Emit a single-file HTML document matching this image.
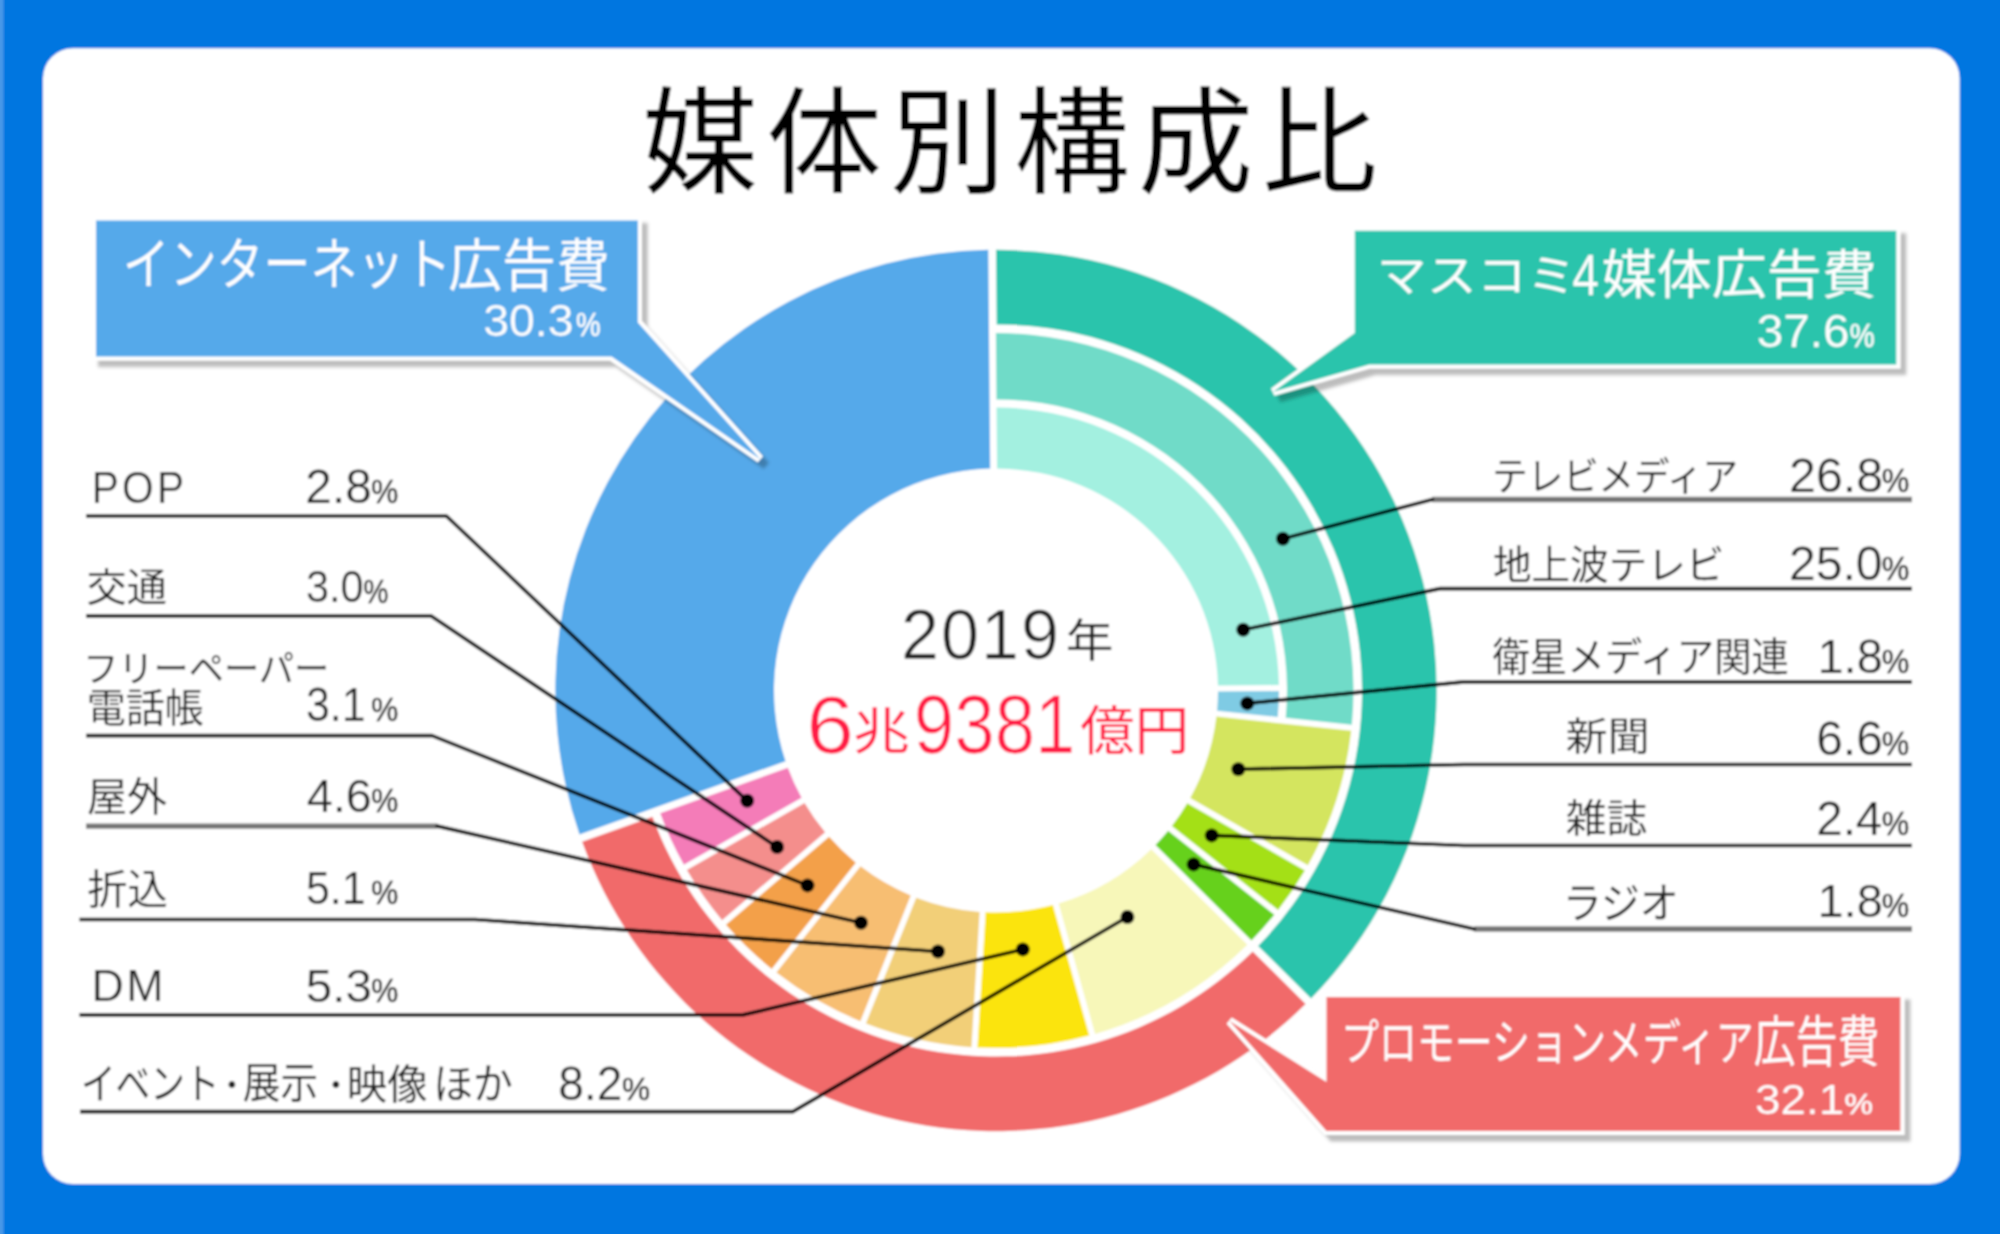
<!DOCTYPE html>
<html lang="ja"><head><meta charset="utf-8"><title>媒体別構成比</title>
<style>
html,body{margin:0;padding:0;background:#0676e0;}
body{width:2000px;height:1234px;overflow:hidden;}
svg{display:block;}
text{font-family:"Liberation Sans","Noto Sans CJK JP",sans-serif;}
</style></head><body>
<svg width="2000" height="1234" viewBox="0 0 2000 1234">
<defs><filter id="bl" filterUnits="userSpaceOnUse" x="-40" y="-40" width="2080" height="1314"><feGaussianBlur stdDeviation="0.8"/></filter><filter id="sh" x="-10%" y="-10%" width="125%" height="130%"><feDropShadow dx="6" dy="6.5" stdDeviation="1.6" flood-color="#000" flood-opacity="0.26"/></filter></defs>
<g filter="url(#bl)">
<rect x="-40" y="-40" width="2080" height="1314" fill="#0676e0"/>
<rect x="-40" y="-40" width="43.5" height="1314" fill="#4698e8"/>
<rect x="43" y="48.3" width="1916.6" height="1135.7" rx="30" ry="30" fill="#fff"/>
<g id="chart">
<path d="M996.00,249.80A440.7,440.7 0 0 1 1311.09,998.62L1258.13,945.92A366,366 0 0 0 996.66,324.50Z" fill="#29c4ac"/>
<path d="M1305.65,1004.08A440.7,440.7 0 0 1 582.09,841.81L652.47,816.78A366,366 0 0 0 1252.70,951.38Z" fill="#f16b6a"/>
<path d="M579.51,834.56A440.7,440.7 0 0 1 988.30,249.87L990.21,468.58A222,222 0 0 0 785.58,761.26Z" fill="#55a9ea"/>
<path d="M995.88,333.00A357.5,357.5 0 0 1 1351.85,724.76L1285.71,717.83A291,291 0 0 0 996.46,399.50Z" fill="#70dbc8"/>
<path d="M996.53,407.50A283,283 0 0 1 1278.95,685.03L1217.95,685.56A222,222 0 0 0 997.06,468.50Z" fill="#a3f0e0"/>
<path d="M1279.00,691.03A283,283 0 0 1 1277.76,717.00L1217.08,710.64A222,222 0 0 0 1218.00,691.56Z" fill="#7fcbe4"/>
<path d="M1351.23,730.73A357.5,357.5 0 0 1 1307.89,865.23L1190.23,798.01A222,222 0 0 0 1216.46,716.61Z" fill="#d4e55e"/>
<path d="M1304.91,870.44A357.5,357.5 0 0 1 1278.10,910.10L1171.87,825.97A222,222 0 0 0 1187.25,803.22Z" fill="#a4e015"/>
<path d="M1274.38,914.81A357.5,357.5 0 0 1 1251.51,940.54L1155.46,844.95A222,222 0 0 0 1168.15,830.67Z" fill="#66d11a"/>
<path d="M1247.28,944.79A357.5,357.5 0 0 1 1095.14,1033.98L1058.66,903.47A222,222 0 0 0 1151.23,849.21Z" fill="#f7f7b9"/>
<path d="M1089.37,1035.59A357.5,357.5 0 0 1 977.42,1047.52L985.60,912.26A222,222 0 0 0 1052.88,905.09Z" fill="#fbe40f"/>
<path d="M971.43,1047.15A357.5,357.5 0 0 1 865.91,1023.49L916.28,897.69A222,222 0 0 0 979.61,911.89Z" fill="#f2cf78"/>
<path d="M860.34,1021.26A357.5,357.5 0 0 1 776.40,972.60L860.53,866.37A222,222 0 0 0 910.71,895.46Z" fill="#f7be72"/>
<path d="M771.69,968.88A357.5,357.5 0 0 1 725.95,924.76L829.05,836.83A222,222 0 0 0 855.83,862.65Z" fill="#f3a049"/>
<path d="M722.06,920.20A357.5,357.5 0 0 1 686.84,870.01L804.59,802.95A222,222 0 0 0 825.16,832.26Z" fill="#f48e8c"/>
<path d="M683.87,864.80A357.5,357.5 0 0 1 660.19,813.13L787.86,767.72A222,222 0 0 0 801.62,797.74Z" fill="#f47cb8"/>
</g>
<g id="leaders"><polyline points="86,516 446.4,516 747.2,800.8" fill="none" stroke="#000000" stroke-width="3.7" stroke-linejoin="round"/><circle cx="747.2" cy="800.8" r="7" fill="#000"/><polyline points="86,615.8 430.8,615.8 777.1,847" fill="none" stroke="#000000" stroke-width="3.7" stroke-linejoin="round"/><circle cx="777.1" cy="847" r="7" fill="#000"/><polyline points="86,735.6 432,735.6 807.5,885.4" fill="none" stroke="#000000" stroke-width="3.7" stroke-linejoin="round"/><circle cx="807.5" cy="885.4" r="7" fill="#000"/><polyline points="86,826.1 437.3,826.1" fill="none" stroke="#747474" stroke-width="5.4"/><polyline points="437.3,826.1 861,922.7" fill="none" stroke="#000000" stroke-width="3.7" stroke-linecap="round"/><circle cx="861" cy="922.7" r="7" fill="#000"/><polyline points="79.5,919.5 475,919.5 938,951.5" fill="none" stroke="#000000" stroke-width="3.7" stroke-linejoin="round"/><circle cx="938" cy="951.5" r="7" fill="#000"/><polyline points="79.5,1014.9 743,1014.9 1022.8,949.4" fill="none" stroke="#000000" stroke-width="3.7" stroke-linejoin="round"/><circle cx="1022.8" cy="949.4" r="7" fill="#000"/><polyline points="80,1111.6 792.8,1111.6 1127.4,917" fill="none" stroke="#000000" stroke-width="3.7" stroke-linejoin="round"/><circle cx="1127.4" cy="917" r="7" fill="#000"/><polyline points="1912,499.5 1432.3,499.5" fill="none" stroke="#747474" stroke-width="5.4"/><polyline points="1432.3,499.5 1282.9,538.8" fill="none" stroke="#000000" stroke-width="3.7" stroke-linecap="round"/><circle cx="1282.9" cy="538.8" r="7" fill="#000"/><polyline points="1912,588.6 1440,588.6 1243.2,629.8" fill="none" stroke="#000000" stroke-width="3.7" stroke-linejoin="round"/><circle cx="1243.2" cy="629.8" r="7" fill="#000"/><polyline points="1912,681.8 1464,681.8 1247.3,703.4" fill="none" stroke="#000000" stroke-width="3.7" stroke-linejoin="round"/><circle cx="1247.3" cy="703.4" r="7" fill="#000"/><polyline points="1912,764.5 1464,764.5 1238.3,769.2" fill="none" stroke="#000000" stroke-width="3.7" stroke-linejoin="round"/><circle cx="1238.3" cy="769.2" r="7" fill="#000"/><polyline points="1912,845.5 1464,845.5 1211.7,835.4" fill="none" stroke="#000000" stroke-width="3.7" stroke-linejoin="round"/><circle cx="1211.7" cy="835.4" r="7" fill="#000"/><polyline points="1912,929 1474.2,929" fill="none" stroke="#747474" stroke-width="5.4"/><polyline points="1474.2,929 1193.6,864.4" fill="none" stroke="#000000" stroke-width="3.7" stroke-linecap="round"/><circle cx="1193.6" cy="864.4" r="7" fill="#000"/></g>
<g id="callouts"><path d="M96,220.4H637.8V322.5L760,459L611.6,356.6H96Z" fill="#55a9ea" stroke="#fff" stroke-width="8" stroke-linejoin="miter" stroke-miterlimit="3" paint-order="stroke" filter="url(#sh)"/><path d="M1354.8,230.8H1896.3V364.5H1369.5L1273.3,391.8L1354.8,333Z" fill="#29c4ac" stroke="#fff" stroke-width="8" stroke-linejoin="miter" stroke-miterlimit="3" paint-order="stroke" filter="url(#sh)"/><path d="M1326.5,997H1900.4V1131H1326.5L1229.6,1021L1326.5,1082Z" fill="#f16b6a" stroke="#fff" stroke-width="8" stroke-linejoin="miter" stroke-miterlimit="3" paint-order="stroke" filter="url(#sh)"/></g>
<g id="labels">
<text transform="matrix(1.1576 0 0 1.1613 642.37 183.55)" font-size="100" font-weight="400" fill="#000000" letter-spacing="0.07em">媒体別構成比</text>
<text transform="matrix(0.4693 0 0 0.5618 122.78 284.01)" font-size="100" font-weight="400" fill="#ffffff">インターネット</text>
<text transform="matrix(0.5392 0 0 0.5634 448.18 285.93)" font-size="100" font-weight="400" fill="#ffffff">広告費</text>
<text transform="matrix(0.4645 0 0 0.4465 483.14 335.55)" font-size="100" font-weight="400" fill="#ffffff" stroke="#55a9ea" stroke-width="0.20">30.3</text>
<text transform="matrix(0.2765 0 0 0.3286 575.89 335.67)" font-size="100" font-weight="400" fill="#ffffff" stroke="#ffffff" stroke-width="1.66">%</text>
<text transform="matrix(0.5000 0 0 0.4531 1376.80 292.23)" font-size="100" font-weight="400" fill="#ffffff">マスコミ</text>
<text transform="matrix(0.4804 0 0 0.5662 1572.24 295.07)" font-size="100" font-weight="400" fill="#ffffff" stroke="#29c4ac" stroke-width="0.21">4</text>
<text transform="matrix(0.5500 0 0 0.5344 1601.80 293.89)" font-size="100" font-weight="400" fill="#ffffff">媒体広告費</text>
<text transform="matrix(0.4763 0 0 0.4676 1756.79 346.53)" font-size="100" font-weight="400" fill="#ffffff" stroke="#29c4ac" stroke-width="0.20">37.6</text>
<text transform="matrix(0.2802 0 0 0.3243 1849.68 346.68)" font-size="100" font-weight="400" fill="#ffffff" stroke="#ffffff" stroke-width="1.66">%</text>
<text transform="matrix(0.3795 0 0 0.4915 1341.07 1059.67)" font-size="100" font-weight="400" fill="#ffffff">プロモーションメディア</text>
<text transform="matrix(0.4192 0 0 0.5452 1753.74 1061.29)" font-size="100" font-weight="400" fill="#ffffff">広告費</text>
<text transform="matrix(0.4575 0 0 0.4324 1755.07 1114.27)" font-size="100" font-weight="400" fill="#ffffff" stroke="#f16b6a" stroke-width="0.19">32.1</text>
<text transform="matrix(0.3198 0 0 0.2957 1844.42 1114.40)" font-size="100" font-weight="400" fill="#ffffff" stroke="#ffffff" stroke-width="1.63">%</text>
<text transform="matrix(0.6838 0 0 0.6972 900.88 658.50)" font-size="100" font-weight="400" fill="#222222" letter-spacing="0.03em" stroke="#ffffff" stroke-width="0.81">2019</text>
<text transform="matrix(0.4767 0 0 0.4495 1065.82 656.70)" font-size="100" font-weight="400" fill="#222222">年</text>
<text transform="matrix(0.8522 0 0 0.8211 806.54 752.98)" font-size="100" font-weight="400" fill="#ff1c47" stroke="#ffffff" stroke-width="0.79">6</text>
<text transform="matrix(0.5681 0 0 0.5022 853.06 749.28)" font-size="100" font-weight="400" fill="#ff1c47">兆</text>
<text transform="matrix(0.7264 0 0 0.8366 913.87 752.96)" font-size="100" font-weight="400" fill="#ff1c47" stroke="#ffffff" stroke-width="0.86">9381</text>
<text transform="matrix(0.5442 0 0 0.5380 1080.31 749.50)" font-size="100" font-weight="400" fill="#ff1c47">億円</text>
<text transform="matrix(0.4061 0 0 0.4380 91.75 503.06)" font-size="100" font-weight="400" fill="#222222" letter-spacing="0.08em" stroke="#ffffff" stroke-width="0.21">POP</text>
<text transform="matrix(0.4785 0 0 0.4746 305.31 503.03)" font-size="100" font-weight="400" fill="#222222" stroke="#ffffff" stroke-width="0.20">2.8</text>
<text transform="matrix(0.3037 0 0 0.3286 371.29 503.17)" font-size="100" font-weight="400" fill="#222222" stroke="#222222" stroke-width="1.58">%</text>
<text transform="matrix(0.4026 0 0 0.3903 86.49 601.19)" font-size="100" font-weight="400" fill="#222222">交通</text>
<text transform="matrix(0.4145 0 0 0.4493 306.04 602.45)" font-size="100" font-weight="400" fill="#222222" stroke="#ffffff" stroke-width="0.21">3.0</text>
<text transform="matrix(0.2790 0 0 0.3271 363.58 602.57)" font-size="100" font-weight="400" fill="#222222" stroke="#222222" stroke-width="1.65">%</text>
<text transform="matrix(0.3521 0 0 0.3659 83.22 682.34)" font-size="100" font-weight="400" fill="#222222">フリーペーパー</text>
<text transform="matrix(0.3903 0 0 0.3946 86.68 722.14)" font-size="100" font-weight="400" fill="#222222">電話帳</text>
<text transform="matrix(0.4285 0 0 0.4746 305.99 720.93)" font-size="100" font-weight="400" fill="#222222" stroke="#ffffff" stroke-width="0.21">3.1</text>
<text transform="matrix(0.3037 0 0 0.3343 371.29 721.07)" font-size="100" font-weight="400" fill="#222222" stroke="#222222" stroke-width="1.57">%</text>
<text transform="matrix(0.4010 0 0 0.3946 86.90 810.74)" font-size="100" font-weight="400" fill="#222222">屋外</text>
<text transform="matrix(0.4677 0 0 0.4563 306.76 812.14)" font-size="100" font-weight="400" fill="#222222" stroke="#ffffff" stroke-width="0.20">4.6</text>
<text transform="matrix(0.3037 0 0 0.3229 371.29 812.28)" font-size="100" font-weight="400" fill="#222222" stroke="#222222" stroke-width="1.60">%</text>
<text transform="matrix(0.4031 0 0 0.4087 87.29 904.03)" font-size="100" font-weight="400" fill="#222222">折込</text>
<text transform="matrix(0.4285 0 0 0.4629 305.99 904.24)" font-size="100" font-weight="400" fill="#222222" stroke="#ffffff" stroke-width="0.20">5.1</text>
<text transform="matrix(0.3037 0 0 0.3243 371.29 904.38)" font-size="100" font-weight="400" fill="#222222" stroke="#222222" stroke-width="1.59">%</text>
<text transform="matrix(0.4469 0 0 0.4507 91.42 1000.60)" font-size="100" font-weight="400" fill="#222222" letter-spacing="0.06em" stroke="#ffffff" stroke-width="0.20">DM</text>
<text transform="matrix(0.4748 0 0 0.4648 305.80 1001.54)" font-size="100" font-weight="400" fill="#222222" stroke="#ffffff" stroke-width="0.20">5.3</text>
<text transform="matrix(0.3037 0 0 0.3286 371.29 1001.67)" font-size="100" font-weight="400" fill="#222222" stroke="#222222" stroke-width="1.58">%</text>
<text transform="matrix(0.3467 0 0 0.4198 80.88 1098.74)" font-size="100" font-weight="400" fill="#222222">イベント</text>
<text transform="matrix(0.3182 0 0 0.3333 216.09 1096.50)" font-size="100" font-weight="400" fill="#222222">・</text>
<text transform="matrix(0.3770 0 0 0.4227 242.87 1098.20)" font-size="100" font-weight="400" fill="#222222">展示</text>
<text transform="matrix(0.3182 0 0 0.3333 320.09 1096.50)" font-size="100" font-weight="400" fill="#222222">・</text>
<text transform="matrix(0.4043 0 0 0.4043 346.77 1098.77)" font-size="100" font-weight="400" fill="#222222">映像</text>
<text transform="matrix(0.3978 0 0 0.4217 433.23 1099.31)" font-size="100" font-weight="400" fill="#222222">ほか</text>
<text transform="matrix(0.4615 0 0 0.4789 558.15 1099.52)" font-size="100" font-weight="400" fill="#222222" stroke="#ffffff" stroke-width="0.20">8.2</text>
<text transform="matrix(0.3160 0 0 0.3143 621.94 1099.69)" font-size="100" font-weight="400" fill="#222222" stroke="#222222" stroke-width="1.59">%</text>
<text transform="matrix(0.3547 0 0 0.3862 1492.25 490.41)" font-size="100" font-weight="400" fill="#222222">テレビメディア</text>
<text transform="matrix(0.4838 0 0 0.4746 1788.98 491.73)" font-size="100" font-weight="400" fill="#222222" stroke="#ffffff" stroke-width="0.20">26.8</text>
<text transform="matrix(0.3099 0 0 0.3314 1881.76 491.87)" font-size="100" font-weight="400" fill="#222222" stroke="#222222" stroke-width="1.56">%</text>
<text transform="matrix(0.3859 0 0 0.3946 1492.96 578.54)" font-size="100" font-weight="400" fill="#222222">地上波テレビ</text>
<text transform="matrix(0.4812 0 0 0.4746 1788.99 579.93)" font-size="100" font-weight="400" fill="#222222" stroke="#ffffff" stroke-width="0.20">25.0</text>
<text transform="matrix(0.3099 0 0 0.3343 1881.76 580.07)" font-size="100" font-weight="400" fill="#222222" stroke="#222222" stroke-width="1.55">%</text>
<text transform="matrix(0.3740 0 0 0.4000 1492.45 670.60)" font-size="100" font-weight="400" fill="#222222">衛星メディア関連</text>
<text transform="matrix(0.4701 0 0 0.4761 1817.44 673.32)" font-size="100" font-weight="400" fill="#222222" stroke="#ffffff" stroke-width="0.20">1.8</text>
<text transform="matrix(0.3099 0 0 0.3329 1881.76 673.47)" font-size="100" font-weight="400" fill="#222222" stroke="#222222" stroke-width="1.56">%</text>
<text transform="matrix(0.4190 0 0 0.3903 1565.74 750.39)" font-size="100" font-weight="400" fill="#222222">新聞</text>
<text transform="matrix(0.4792 0 0 0.4746 1816.20 754.73)" font-size="100" font-weight="400" fill="#222222" stroke="#ffffff" stroke-width="0.20">6.6</text>
<text transform="matrix(0.3086 0 0 0.3314 1881.77 754.87)" font-size="100" font-weight="400" fill="#222222" stroke="#222222" stroke-width="1.56">%</text>
<text transform="matrix(0.4082 0 0 0.3903 1565.78 832.48)" font-size="100" font-weight="400" fill="#222222">雑誌</text>
<text transform="matrix(0.4756 0 0 0.4729 1816.22 835.00)" font-size="100" font-weight="400" fill="#222222" stroke="#ffffff" stroke-width="0.20">2.4</text>
<text transform="matrix(0.3086 0 0 0.3286 1881.77 834.67)" font-size="100" font-weight="400" fill="#222222" stroke="#222222" stroke-width="1.57">%</text>
<text transform="matrix(0.3880 0 0 0.4217 1562.97 918.21)" font-size="100" font-weight="400" fill="#222222">ラジオ</text>
<text transform="matrix(0.4701 0 0 0.4563 1817.44 916.84)" font-size="100" font-weight="400" fill="#222222" stroke="#ffffff" stroke-width="0.20">1.8</text>
<text transform="matrix(0.3086 0 0 0.3257 1881.77 916.97)" font-size="100" font-weight="400" fill="#222222" stroke="#222222" stroke-width="1.58">%</text>
</g>
</g>
</svg>
</body></html>
